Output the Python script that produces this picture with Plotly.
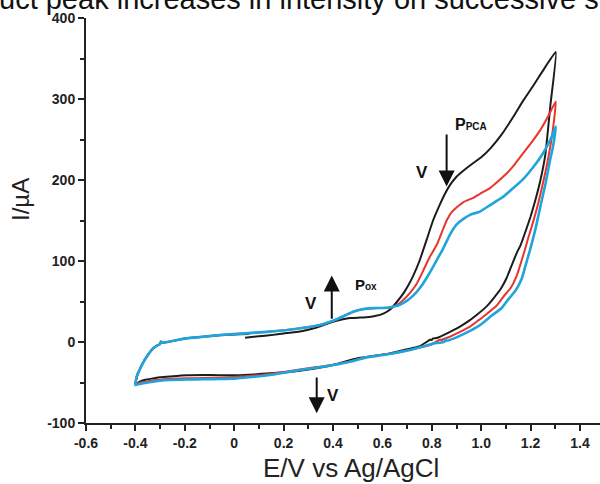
import plotly.graph_objects as go

# ---------------- data ----------------
black_E = [0.044, 0.10, 0.15, 0.20, 0.266, 0.334, 0.40, 0.44, 0.469, 0.50, 0.536, 0.57, 0.604, 0.635,
           0.66, 0.685, 0.705, 0.725, 0.75, 0.78, 0.805, 0.833, 0.855, 0.874, 0.90, 0.93, 0.968, 1.00,
           1.04, 1.08, 1.13, 1.17, 1.21, 1.25, 1.302,
           1.28, 1.26, 1.24, 1.22, 1.20, 1.18, 1.16, 1.144, 1.12, 1.103, 1.08, 1.05, 1.022, 0.98, 0.95,
           0.914, 0.87, 0.82, 0.805, 0.80, 0.795, 0.752, 0.70, 0.65, 0.604, 0.55, 0.50, 0.45, 0.40, 0.334,
           0.266, 0.20, 0.145, 0.08, 0.01, -0.06, -0.125, -0.19, -0.26, -0.30, -0.33, -0.36, -0.38, -0.40,
           -0.395, -0.388, -0.375, -0.36, -0.345, -0.328, -0.31, -0.30, -0.297, -0.292, -0.23, -0.192,
           -0.125, -0.057, 0.02, 0.06]
black_I = [5.3, 7, 8.5, 10.5, 13, 18, 25, 28, 29.5, 30, 30.5, 32, 35, 41,
           50, 60, 70, 82, 100, 127, 150, 170, 184, 194, 204, 212, 221, 228,
           240, 255, 278, 298, 316, 335, 358,
           292, 232, 200, 176, 155, 137, 120, 110, 92, 79, 66, 54, 44, 33, 26,
           19, 12, 5, 4.5, 2.5, 3, -5, -9, -12.5, -15.5, -18, -20, -24, -28.5, -32.5,
           -35.5, -37.5, -38.5, -40, -41, -41, -40.7, -41, -42.5, -43.5, -45, -46.5, -48.5, -52,
           -44, -38, -29, -21, -14, -8, -4, -2.5, 0.5, -1, 2.5, 4.5,
           6.5, 8.3, 9.5, 10]

red_E = [0.044, 0.13, 0.213, 0.28, 0.347, 0.38, 0.415, 0.45, 0.482, 0.52, 0.563, 0.604, 0.64, 0.66,
         0.685, 0.71, 0.739, 0.765, 0.79, 0.82, 0.84, 0.86, 0.88, 0.90, 0.93, 0.968, 0.995, 1.036, 1.063,
         1.103, 1.13, 1.157, 1.20, 1.238, 1.27, 1.302,
         1.29, 1.272, 1.25, 1.23, 1.21, 1.19, 1.177, 1.16, 1.144, 1.12, 1.09, 1.063, 1.02, 0.99, 0.955,
         0.91, 0.86, 0.845, 0.84, 0.835, 0.793, 0.75, 0.70, 0.65, 0.604, 0.536, 0.469, 0.401, 0.334,
         0.266, 0.20, 0.145, 0.08, 0.01, -0.06, -0.125, -0.19, -0.26, -0.30, -0.33, -0.36, -0.385, -0.40,
         -0.397, -0.392, -0.381, -0.368, -0.354, -0.34, -0.328, -0.31, -0.30, -0.297, -0.292, -0.27,
         -0.23, -0.192, -0.125, -0.057, 0.044]
red_I = [10.5, 12.5, 14.8, 17.5, 21, 24, 28, 33, 37.4, 40.5, 41.8, 42, 43, 46,
         52, 60, 72, 88, 104, 120, 135, 150, 160, 166, 173, 178, 183, 190, 197,
         208, 217, 228, 245, 261, 278, 297,
         262, 228, 196, 170, 148, 128, 114, 97, 82, 67, 56, 45, 34, 27, 19,
         12, 5, 3.5, 2, 3, -3.7, -7, -10.5, -13.5, -15.5, -18.5, -24, -28, -31,
         -34, -37, -39.5, -41.5, -43, -44, -44.5, -44.8, -45.5, -46.5, -47.5, -49, -50.5, -52,
         -46, -40, -33, -25, -18, -12, -7.8, -4, -2.5, 0.5, -1, 0,
         2.5, 4.5, 6.5, 8.6, 10.5]

blue_E = [0.044, 0.13, 0.213, 0.28, 0.347, 0.38, 0.415, 0.45, 0.482, 0.52, 0.563, 0.60, 0.63, 0.65,
          0.671, 0.70, 0.72, 0.739, 0.76, 0.779, 0.80, 0.82, 0.847, 0.874, 0.90, 0.928, 0.955, 0.995,
          1.036, 1.083, 1.130, 1.17, 1.211, 1.24, 1.265, 1.285, 1.302,
          1.29, 1.279, 1.26, 1.24, 1.22, 1.198, 1.18, 1.164, 1.14, 1.108, 1.083, 1.04, 1.00, 0.975, 0.93,
          0.89, 0.86, 0.855, 0.85, 0.806, 0.712, 0.604, 0.536, 0.469, 0.401, 0.334, 0.266, 0.20, 0.145,
          0.08, 0.01, -0.06, -0.125, -0.19, -0.26, -0.30, -0.328, -0.36, -0.385, -0.40,
          -0.397, -0.392, -0.381, -0.368, -0.354, -0.34, -0.328, -0.31, -0.30, -0.297, -0.292, -0.27,
          -0.23, -0.192, -0.125, -0.057, 0.044]
blue_I = [10.7, 12.5, 14.8, 17.5, 21, 24, 28, 33, 37.4, 40.5, 41.8, 42, 42.5, 44,
          46, 51, 56, 62, 70, 79, 90, 101, 116, 133, 145, 152, 157, 161,
          169, 178, 190, 201, 216, 228, 241, 253, 266,
          240, 225, 195, 168, 140, 114, 95, 78, 64, 52, 42, 32, 22, 17, 10,
          4.5, 1.5, 3, 0, -2, -10, -16, -19, -24.3, -28.4, -31.7, -34.6, -38, -40.7,
          -43, -44.9, -45.7, -46, -46.3, -46.9, -47.8, -49, -50.5, -51.8, -53,
          -46, -40, -33, -25, -18, -12, -7.8, -4, -2.5, 0.5, -1, 0,
          2.5, 4.5, 6.5, 8.6, 10.7]

x_tick_vals = [-0.6, -0.4, -0.2, 0.0, 0.2, 0.4, 0.6, 0.8, 1.0, 1.2, 1.4]
x_tick_text = ['-0.6', '-0.4', '-0.2', '0', '0.2', '0.4', '0.6', '0.8', '1.0', '1.2', '1.4']
y_tick_vals = [-100, 0, 100, 200, 300, 400]
y_tick_text = ['-100', '0', '100', '200', '300', '400']

# ---------------- figure ----------------
W, H = 600, 484
ML, MR, MT, MB = 86, 0, 18, 61
PW, PH = W - ML - MR, H - MT - MB


def px_x(p):
    return (p - ML) / PW


def px_y(p):
    return (H - MB - p) / PH


fig = go.Figure()
line_shape = dict(shape='spline', smoothing=0.4)
fig.add_trace(go.Scatter(x=black_E, y=black_I, mode='lines',
                         line=dict(color='#1c1c1c', width=2, **line_shape), showlegend=False))
fig.add_trace(go.Scatter(x=red_E, y=red_I, mode='lines',
                         line=dict(color='#e8342c', width=2, **line_shape), showlegend=False))
fig.add_trace(go.Scatter(x=blue_E, y=blue_I, mode='lines',
                         line=dict(color='#1ea5dc', width=2.6, **line_shape), showlegend=False))

axis_common = dict(showline=True, linecolor='#222222', linewidth=2, ticks='outside', ticklen=6,
                   tickwidth=1.5, tickcolor='#222222', showgrid=False, zeroline=False,
                   tickfont=dict(family='Arial, Liberation Sans, sans-serif', size=14,
                                 color='#222222', weight='bold'))
fig.update_xaxes(range=[-0.6, -0.6 + (W - ML) / 247.0], tickvals=x_tick_vals, ticktext=x_tick_text,
                 minor=dict(ticks='outside', ticklen=4, tickwidth=1.5, tickcolor='#222222', dtick=0.1,
                            tick0=0, showgrid=False),
                 **axis_common)
fig.update_yaxes(range=[-100, 400], tickvals=y_tick_vals, ticktext=y_tick_text,
                 minor=dict(ticks='outside', ticklen=4, tickwidth=1.5, tickcolor='#222222', dtick=50,
                            tick0=0, showgrid=False),
                 **axis_common)

font_main = 'Arial, Liberation Sans, sans-serif'
ann = []
# cropped caption at the top
ann.append(dict(text='uct peak increases in intensity on successive s', xref='paper', yref='paper',
                x=px_x(-3), y=px_y(-1), xanchor='left', yanchor='middle', showarrow=False,
                font=dict(family=font_main, size=29, color='#111111')))
# axis titles
ann.append(dict(text='E/V vs Ag/AgCl', xref='paper', yref='paper', x=px_x(351), y=px_y(468),
                xanchor='center', yanchor='middle', showarrow=False,
                font=dict(family=font_main, size=26, color='#222222')))
ann.append(dict(text='I/\u00b5A', xref='paper', yref='paper', x=px_x(20), y=px_y(200),
                xanchor='center', yanchor='middle', showarrow=False, textangle=-90,
                font=dict(family=font_main, size=24, color='#222222')))
# arrows
for (xh, yh, xt, yt) in [(0.395, 82, 0.395, 27), (0.334, -88, 0.334, -42), (0.86, 192, 0.86, 258)]:
    ann.append(dict(x=xh, y=yh, ax=xt, ay=yt, xref='x', yref='y', axref='x', ayref='y', text='',
                    showarrow=True, arrowhead=2, arrowsize=1.6, arrowwidth=2, arrowcolor='#111111'))
# labels
for (xv, yv) in [(0.312, 48), (0.398, -66), (0.759, 209)]:
    ann.append(dict(text='<b>V</b>', x=xv, y=yv, xref='x', yref='y', showarrow=False,
                    font=dict(family=font_main, size=17, color='#111111')))
ann.append(dict(text="<b>P<span style='font-size:10px'>ox</span></b>",
                x=0.533, y=70.5, xref='x', yref='y', showarrow=False,
                font=dict(family=font_main, size=15, color='#111111')))
ann.append(dict(text="<b>P<span style='font-size:10px'>PCA</span></b>",
                x=0.957, y=269, xref='x', yref='y', showarrow=False,
                font=dict(family=font_main, size=16, color='#111111')))

fig.update_layout(width=W, height=H, margin=dict(l=ML, r=MR, t=MT, b=MB, pad=0),
                  paper_bgcolor='white', plot_bgcolor='white', annotations=ann,
                  font=dict(family=font_main))

fig.write_html('out.html', config={'displayModeBar': False},
               post_script="document.body.style.margin='0';")
